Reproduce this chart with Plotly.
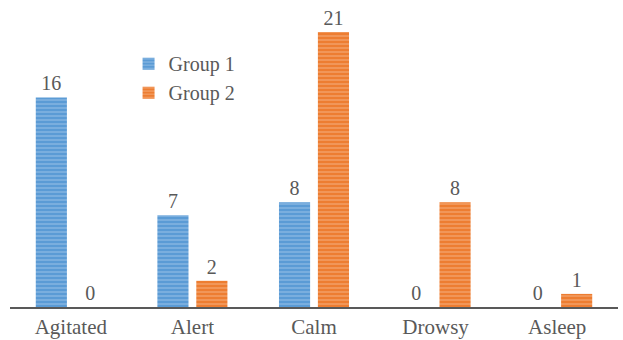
import plotly.graph_objects as go

categories = ["Agitated", "Alert", "Calm", "Drowsy", "Asleep"]
group1 = [16, 7, 8, 0, 0]
group2 = [0, 2, 21, 8, 1]
series_names = ["Group 1", "Group 2"]

font_family = "Liberation Serif, Times New Roman, serif"
text_color = "#595959"

fig = go.Figure()
for name, vals, col, fg in [
    (series_names[0], group1, "#5B9BD5", "#B4D0EE"),
    (series_names[1], group2, "#ED7D31", "#F8C4A0"),
]:
    fig.add_trace(go.Bar(
        x=categories, y=vals, name=name,
        text=[str(v) for v in vals], textposition="outside",
        textfont=dict(family=font_family, size=20, color=text_color),
        cliponaxis=False,
        marker=dict(color=col, line=dict(width=0),
                    pattern=dict(shape="-", fgcolor=fg, bgcolor=col,
                                 size=4, solidity=0.35, fillmode="overlay")),
    ))

fig.update_layout(
    width=623, height=340,
    margin=dict(l=10, r=5, t=10, b=33, autoexpand=False),
    paper_bgcolor="white", plot_bgcolor="white",
    barmode="group", bargap=0.36, bargroupgap=0.2,
    font=dict(family=font_family, color=text_color, size=20),
    showlegend=True,
    legend=dict(x=0.195, y=0.885, xanchor="left", yanchor="top",
                font=dict(family=font_family, size=20, color=text_color),
                bgcolor="rgba(0,0,0,0)", itemwidth=30, tracegroupgap=0),
    xaxis=dict(showline=True, linecolor="#595959", linewidth=1.5,
               automargin=False,
               ticks="", tickfont=dict(size=21, color=text_color)),
    yaxis=dict(range=[0, 22.67], visible=False, showgrid=False,
               automargin=False),
)

fig.write_html("out.html")
